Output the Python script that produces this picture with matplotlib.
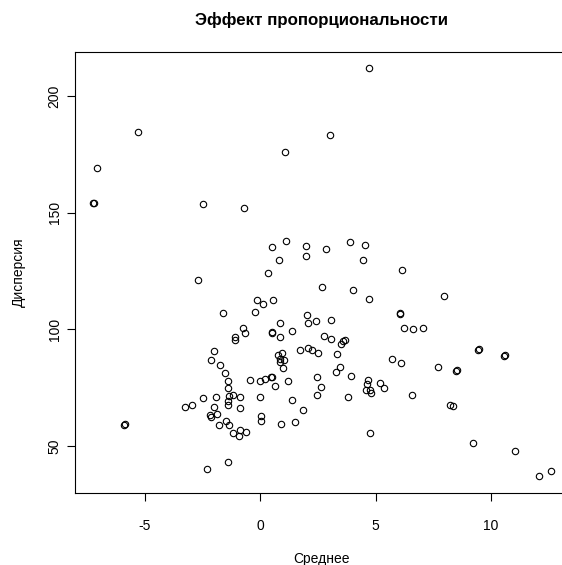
import numpy as np
import matplotlib
matplotlib.use("Agg")
import matplotlib.pyplot as plt

plt.rcParams["font.family"] = ["Liberation Sans", "DejaVu Sans"]
plt.rcParams["axes.unicode_minus"] = False

# values (mean, variance)
mean_vals = [
    4.72, 3.04, -5.30, -7.07, -7.25, -7.22, -2.49, -0.69, 1.09, 1.12,
    0.52, 0.80, 0.35, 1.97, 2.00, 2.87, 3.91, 4.56, 4.46, 6.16,
    -2.68, -0.14, 0.12, 0.56, -1.60, -0.23, 2.02, 2.09, 0.86, -0.75,
    -0.65, 0.50, 0.53, 1.37, 0.86, -1.09, -1.09, -1.99, 1.74, 2.06,
    -2.13, 0.79, 0.93, 0.86, 1.05, 0.86, 1.00, -1.76, -1.54, -1.41,
    -0.43, -0.01, 0.21, 0.47, 0.50, 0.64, 1.21, -1.41, -2.47, -1.92,
    -1.34, -1.19, -0.89, -0.01, 1.37, -1.41, -1.38, -3.26, -2.94, -1.99,
    -0.89, 1.84, -2.18, -2.13, -1.89, -1.47, -1.37, -1.77, 0.05, 0.05,
    0.89, 1.50, -1.19, -0.89, -0.92, -0.62, -5.90, -5.87, -1.38, -2.31,
    2.67, 4.04, 4.72, 7.97, 2.42, 3.08, 6.05, 6.08, 6.22, 6.61,
    7.04, 2.77, 3.06, 3.66, 3.60, 3.49, 2.25, 2.52, 3.34, 5.70,
    6.12, 9.45, 9.48, 10.58, 10.61, 7.71, 8.50, 8.53, 3.47, 3.27,
    3.95, 2.45, 2.64, 2.45, 3.79, 4.69, 4.64, 4.60, 4.76, 4.82,
    5.19, 5.35, 6.59, 8.21, 8.34, 4.77, 9.24, 11.05, 12.09, 12.59,
]
var_vals = [
    211.9, 183.4, 184.7, 169.0, 154.1, 154.3, 153.8, 152.0, 176.1, 137.8,
    135.3, 129.7, 124.0, 135.6, 131.4, 134.3, 137.4, 136.2, 129.6, 125.4,
    121.0, 112.3, 110.7, 112.6, 107.0, 107.3, 106.0, 102.8, 102.6, 100.3,
    98.4, 98.4, 98.6, 99.1, 96.6, 96.6, 95.3, 90.6, 91.1, 92.0,
    86.7, 89.1, 89.8, 87.3, 86.8, 86.1, 83.3, 84.6, 81.1, 78.0,
    78.3, 78.0, 78.6, 79.4, 79.6, 75.7, 78.0, 74.6, 70.7, 71.0,
    71.4, 71.7, 70.9, 70.9, 69.8, 69.4, 67.4, 66.7, 67.6, 66.6,
    66.2, 65.4, 63.3, 62.4, 63.6, 60.7, 58.9, 58.9, 62.6, 60.7,
    59.4, 60.4, 55.7, 56.7, 54.4, 55.9, 59.0, 59.2, 43.0, 40.1,
    118.0, 116.7, 112.9, 114.1, 103.7, 104.0, 106.6, 106.8, 100.3, 100.0,
    100.3, 97.1, 95.8, 95.4, 94.9, 93.6, 91.1, 90.0, 89.3, 87.1,
    85.6, 91.1, 91.3, 88.7, 88.9, 83.7, 82.1, 82.3, 83.7, 81.7,
    80.1, 79.4, 75.1, 72.0, 71.1, 78.4, 76.4, 74.0, 74.0, 72.8,
    77.1, 74.9, 72.0, 67.6, 67.1, 55.6, 51.2, 47.7, 37.0, 39.3,
]
x_ticks = [-5, 0, 5, 10]
y_ticks = [50, 100, 150, 200]

W, H = 562, 565
fig = plt.figure(figsize=(W / 100, H / 100), dpi=100)
# the box runs past the right edge of the picture, as in the reference
ax = fig.add_axes([74.6 / W, (H - 492.5) / H, (569 - 74.6) / W, (492.5 - 51.8) / H])

ax.plot(mean_vals, var_vals, linestyle="none", marker="o", markersize=4.6,
        markerfacecolor="none", markeredgecolor="black", markeredgewidth=0.8)

# R style range: data range plus 4 % on each side
xr = max(mean_vals) - min(mean_vals)
yr = max(var_vals) - min(var_vals)
ax.set_xlim(min(mean_vals) - 0.04 * xr, max(mean_vals) + 0.04 * xr)
ax.set_ylim(min(var_vals) - 0.04 * yr, max(var_vals) + 0.04 * yr)

ax.set_xticks(x_ticks)
ax.set_yticks(y_ticks)
for s in ax.spines.values():
    s.set_linewidth(0.8)
    s.set_color("black")
ax.tick_params(axis="both", direction="out", length=5.8, width=0.8, labelsize=10)
ax.tick_params(axis="x", pad=13.5)
ax.tick_params(axis="y", pad=3.5, labelrotation=90)
for lab in ax.get_yticklabels():
    lab.set_va("center")

ax.set_xlabel("Среднее", fontsize=10, labelpad=13.5)
ax.set_ylabel("Дисперсия", fontsize=10, labelpad=16)
ax.set_title("Эффект пропорциональности", fontsize=12.2, fontweight="bold", pad=19)

fig.savefig("out.png", dpi=100)
